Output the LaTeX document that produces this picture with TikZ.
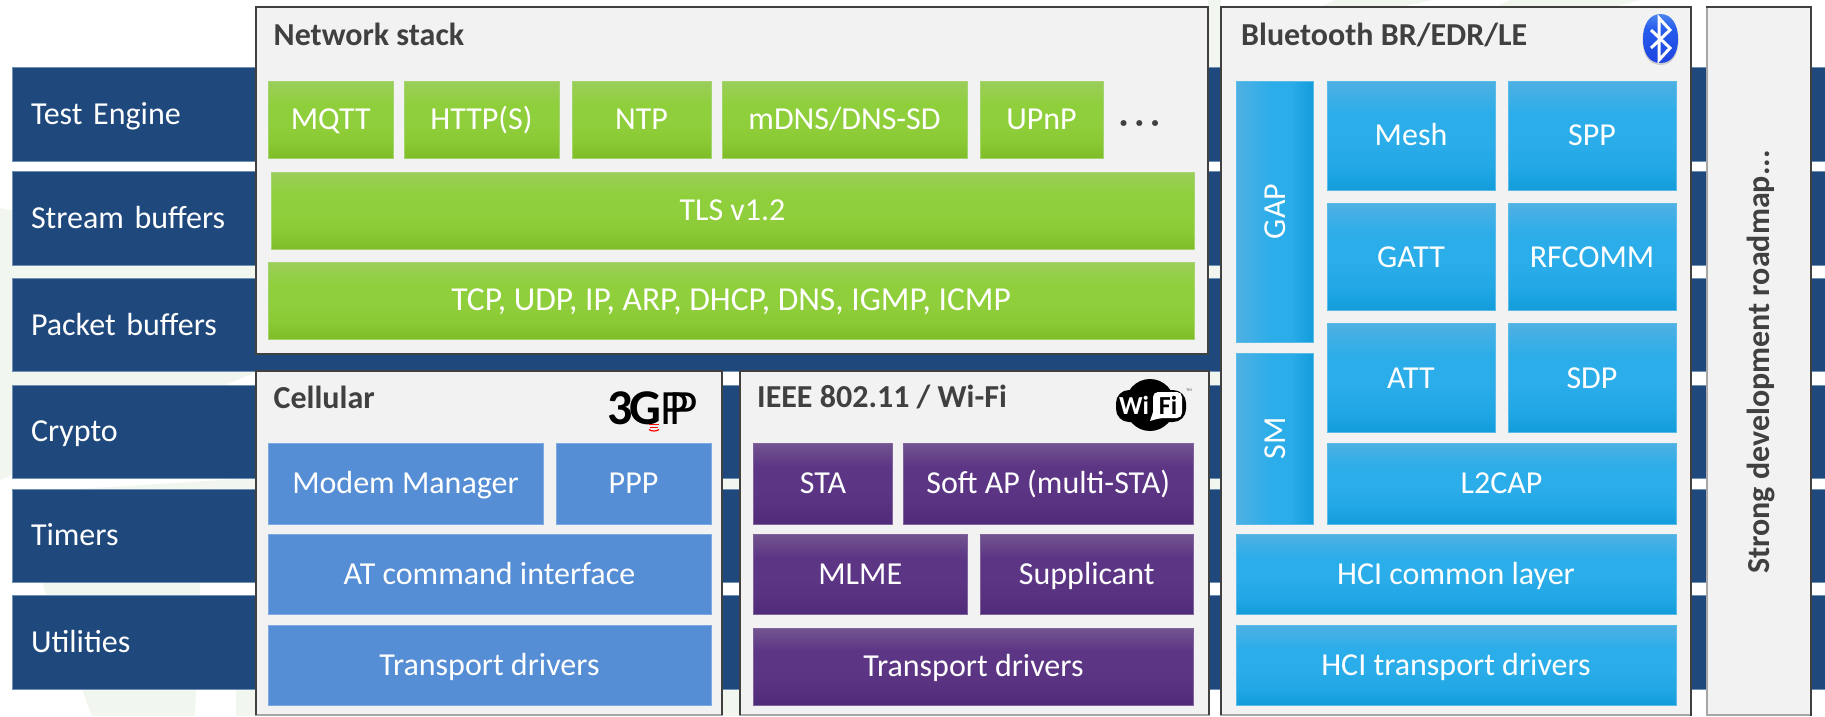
\documentclass[tikz,border=0pt]{standalone}
\usepackage{fontspec}
\setmainfont{Carlito}
\newfontfamily\logosans{Liberation Sans}
\usetikzlibrary{shapes.geometric}
\definecolor{bandc}{HTML}{1F497D}
\definecolor{bandl}{HTML}{6F8FB5}
\definecolor{panelc}{HTML}{F2F2F2}
\definecolor{darkl}{HTML}{404040}
\definecolor{grayl}{HTML}{A6A6A6}
\definecolor{palec}{HTML}{F1F6EE}
\definecolor{gA}{HTML}{9BCE5C}\definecolor{gB}{HTML}{90CF3C}\definecolor{gC}{HTML}{8ACA34}\definecolor{gD}{HTML}{7FBC28}\definecolor{gL}{HTML}{A3D46E}
\definecolor{pA}{HTML}{73548F}\definecolor{pB}{HTML}{5C3585}\definecolor{pC}{HTML}{58317F}\definecolor{pD}{HTML}{502B79}\definecolor{pL}{HTML}{7F639C}
\definecolor{cA}{HTML}{4FB0E3}\definecolor{cB}{HTML}{2BADE9}\definecolor{cC}{HTML}{22A8E5}\definecolor{cD}{HTML}{139CDB}\definecolor{cL}{HTML}{5ABBE8}
\definecolor{mc}{HTML}{558ED5}\definecolor{mL}{HTML}{7FA9E0}
\pgfdeclareverticalshading{greenbox}{100bp}{color(0bp)=(gD);color(25bp)=(gD);color(36bp)=(gC);color(48bp)=(gB);color(60bp)=(gB);color(75bp)=(gA);color(100bp)=(gA)}
\pgfdeclareverticalshading{purplebox}{100bp}{color(0bp)=(pD);color(25bp)=(pD);color(36bp)=(pC);color(48bp)=(pB);color(60bp)=(pB);color(75bp)=(pA);color(100bp)=(pA)}
\pgfdeclareverticalshading{cyanbox}{100bp}{color(0bp)=(cD);color(25bp)=(cD);color(36bp)=(cC);color(48bp)=(cB);color(60bp)=(cB);color(75bp)=(cA);color(100bp)=(cA)}
\pgfdeclarehorizontalshading{cyanside}{100bp}{color(0bp)=(cA);color(25bp)=(cA);color(48bp)=(cB);color(60bp)=(cB);color(75bp)=(cD);color(100bp)=(cD)}
\pgfdeclareverticalshading{btlogoB}{100bp}{rgb(0bp)=(.118,.27,.88);rgb(25bp)=(.118,.27,.88);rgb(60bp)=(.15,.36,.93);rgb(75bp)=(.3,.52,.93);rgb(100bp)=(.3,.52,.93)}
\newcommand{\nbx}[7]{\node[#1,anchor=north west,minimum width={(#5-#3)*1pt},minimum height={(#6-#4)*1pt}] (#2) at (#3,#4) {#7};}
\tikzset{
 fsz/.style={font=\fontsize{32}{36}\selectfont},
 basebox/.style={fsz,text=white,inner sep=0pt,outer sep=0pt,line width=1pt,text height=20.5pt,text depth=0pt,align=center},
 greenb/.style={basebox,draw=gL,shade,shading=greenbox},
 purpleb/.style={basebox,draw=pL,shade,shading=purplebox},
 cyanb/.style={basebox,draw=cL,shade,shading=cyanbox},
 cyans/.style={fsz,text=white,inner sep=0pt,outer sep=0pt,line width=1pt,draw=cL,shade,shading=cyanside},
 cellb/.style={basebox,fill=mc,draw=mL},
 band/.style={fsz,text=white,fill=bandc,draw=bandl,line width=.6pt,inner xsep=19pt,inner ysep=0pt,outer sep=0pt,align=left,text width=1775pt,text height=20.5pt,text depth=0pt},
 panelb/.style={fill=panelc,draw=grayl,line width=1.5pt,inner sep=0pt,outer sep=0pt},
 edgeT/.style={draw=darkl,line width=2.2pt,line cap=rect},
 edgeL/.style={draw=darkl,line width=1.5pt},
 ptitle/.style={font=\fontsize{32}{36}\selectfont\bfseries,text=darkl,anchor=west,inner sep=0pt,text height=20.5pt,text depth=0pt},
}
\begin{document}
\begin{tikzpicture}[x=1pt,y=-1pt]
\useasboundingbox (0,0) rectangle (1825,716);
\fill[white] (0,0) rectangle (1825,716);
% faint background watermark
\fill[palec] (0,208) -- (256,262) -- (256,372) -- (0,480) -- cycle;
\fill[palec] (80,489) -- (256,478) -- (256,490) -- cycle;
\fill[palec] (42,582) -- (200,582) -- (195,716) -- (92,716) -- cycle;
\fill[palec] (236,690) rectangle (256,716);
\fill[palec] (722,470) rectangle (740,500);
\fill[palec] (722,690) rectangle (740,716);
\fill[palec] (1208,0) rectangle (1221,67);
\fill[palec] (1208,262) rectangle (1221,492);
\fill[palec] (1335,0) -- (1432,0) -- (1400,7) -- (1320,7) -- cycle;
\fill[palec] (1510,0) -- (1640,0) -- (1615,7) -- (1495,7) -- cycle;
% bands
\nbx{band}{b1}{12}{67.7}{1825}{161}{Test Engine}
\nbx{band}{b2}{12}{171.7}{1825}{265}{Stream buffers}
\nbx{band}{b3}{12}{278.3}{1825}{371.7}{Packet buffers}
\nbx{band}{b4}{12}{385}{1825}{478.3}{Crypto}
\nbx{band}{b5}{12}{489}{1825}{582.3}{Timers}
\nbx{band}{b6}{12}{595.7}{1825}{689}{Utilities}
% panels
\nbx{panelb}{net}{256}{7}{1208}{354}{}
\draw[darkl,line width=2.6pt,line join=miter] (net.north west) rectangle (net.south east);
\nbx{panelb}{cell}{256}{371}{722}{715}{}
\nbx{panelb}{wifi}{740}{371}{1209}{715}{}
\nbx{panelb}{bt}{1221}{7}{1691}{715}{}
\nbx{panelb}{road}{1707}{7}{1811}{715}{}
\draw[edgeL] (cell.south west) -- (cell.north west) -- (cell.north east) -- (cell.south east);
\draw[edgeL] (wifi.south west) -- (wifi.north west) -- (wifi.north east) -- (wifi.south east);
\draw[edgeT] (bt.north west) -- (bt.north east) -- (bt.south east);
\draw[edgeL] (bt.south west) -- (bt.north west);
\draw[edgeT] (road.north west) -- (road.north east) -- (road.south east);
% titles
\node[ptitle] (tnet) at (273.5,35) {Network stack};
\node[ptitle] (tcell) at (273.5,398) {Cellular};
\node[ptitle] (twifi) at (757,397) {IEEE 802.11 / Wi-Fi};
\node[ptitle] (tbt) at (1241,35) {Bluetooth BR/EDR/LE};
\node[ptitle,anchor=center,rotate=90] (troad) at (1759,362) {Strong development roadmap...};
% network stack
\nbx{greenb}{mqtt}{268}{81}{393.5}{158}{MQTT}
\nbx{greenb}{http}{404}{81}{559}{158}{HTTP(S)}
\nbx{greenb}{ntp}{572}{81}{711}{158}{NTP}
\nbx{greenb}{mdns}{722}{81}{967}{158}{mDNS/DNS-SD}
\nbx{greenb}{upnp}{980}{81}{1103}{158}{UPnP}
\node[font=\fontsize{32}{36}\selectfont\bfseries,text=darkl,inner sep=0pt] (dots) at (1139.5,127) {·\hspace{7.2pt}·\hspace{7.2pt}·};
\nbx{greenb}{tls}{271}{172}{1194}{249}{TLS v1.2}
\nbx{greenb}{tcp}{268}{262}{1194}{339}{\fontsize{33.5}{36}\selectfont TCP, UDP, IP, ARP, DHCP, DNS, IGMP, ICMP}
% cellular
\nbx{cellb}{modem}{268}{443}{543}{524}{Modem Manager}
\nbx{cellb}{ppp}{556}{443}{711}{524}{PPP}
\nbx{cellb}{atc}{268}{534}{711}{614}{AT command interface}
\nbx{cellb}{ctrans}{268}{625}{711}{705}{Transport drivers}
% wifi
\nbx{purpleb}{sta}{753.5}{443}{892.5}{524}{STA}
\nbx{purpleb}{softap}{903}{443}{1193.5}{524}{Soft AP (multi-STA)}
\nbx{purpleb}{mlme}{753.5}{534}{967}{614}{MLME}
\nbx{purpleb}{supp}{980}{534}{1193.5}{614}{Supplicant}
\nbx{purpleb}{wtrans}{753.5}{628}{1193.5}{705}{Transport drivers}
% bluetooth
\nbx{cyans}{gap}{1236}{81}{1313.5}{342}{\rotatebox{90}{GAP}}
\nbx{cyans}{sm}{1236}{353}{1313.5}{524}{\rotatebox{90}{SM}}
\nbx{cyanb}{mesh}{1327}{81}{1495}{190}{Mesh}
\nbx{cyanb}{spp}{1508}{81}{1676}{190}{SPP}
\nbx{cyanb}{gatt}{1327}{203.7}{1495}{310}{GATT}
\nbx{cyanb}{rfcomm}{1508}{203.7}{1676}{310}{RFCOMM}
\nbx{cyanb}{att}{1327}{323.7}{1495}{432}{ATT}
\nbx{cyanb}{sdp}{1508}{323.7}{1676}{432}{SDP}
\nbx{cyanb}{l2cap}{1327}{443}{1676}{524}{L2CAP}
\nbx{cyanb}{hcic}{1236}{534}{1676}{614}{HCI common layer}
\nbx{cyanb}{hcit}{1236}{625}{1676}{705}{HCI transport drivers}
% bluetooth logo
\fill[gray!60,opacity=.6] (1660.5,15) .. controls (1672,15) and (1678.5,26) .. (1678.5,40) .. controls (1678.5,55) and (1672,65) .. (1660.5,65) .. controls (1649,65) and (1642.5,55) .. (1642.5,40) .. controls (1642.5,26) and (1649,15) .. (1660.5,15) -- cycle;
\shade[shading=btlogoB] (1660.5,14) .. controls (1672,14) and (1678,25) .. (1678,39) .. controls (1678,53) and (1672,63) .. (1660.5,63) .. controls (1649,63) and (1643,53) .. (1643,39) .. controls (1643,25) and (1649,14) .. (1660.5,14) -- cycle;
\draw[white,line width=3pt,line join=miter] (1651,30) -- (1670,48) -- (1659,60) -- (1659,18) -- (1670,30) -- (1651,48);
% wi-fi logo
\fill[black] (1150,405) ellipse [x radius=25,y radius=26];
\fill[black,rounded corners=13pt] (1116,390) rectangle (1186,422);
\fill[white,rounded corners=5pt] (1153,392) -- (1182,392) -- (1182,418) -- (1160,418) [sharp corners] -- (1150,421) -- (1153,412) [rounded corners=5pt] -- cycle;
\node[font=\fontsize{26}{26}\selectfont\bfseries,text=white,inner sep=0pt] (wi) at (1134,405) {Wi};
\node[font=\fontsize{26}{26}\selectfont\bfseries,text=black,inner sep=0pt] (fi) at (1168,405) {Fi};
\node[font=\fontsize{4}{4}\selectfont,text=darkl,inner sep=0pt] (wtm) at (1189,390) {TM};
% 3gpp logo
\node[font=\fontsize{50}{50}\selectfont\bfseries,text=black,inner sep=0pt,anchor=base west] (tg) at (607,424) {3\kern-3ptG};
\node[font=\logosans\fontsize{46}{46}\selectfont,text=black,inner sep=0pt,anchor=base west,xscale=.95] (pp) at (660,424) {P\kern-21ptP};
\draw[red,line width=1pt] (649,424) -- (659,424) (650,427) -- (658,427);
\draw[red,line width=1.2pt] (649,429.5) .. controls (652,431.5) and (656,431.5) .. (659,429.5);
\end{tikzpicture}
\end{document}
